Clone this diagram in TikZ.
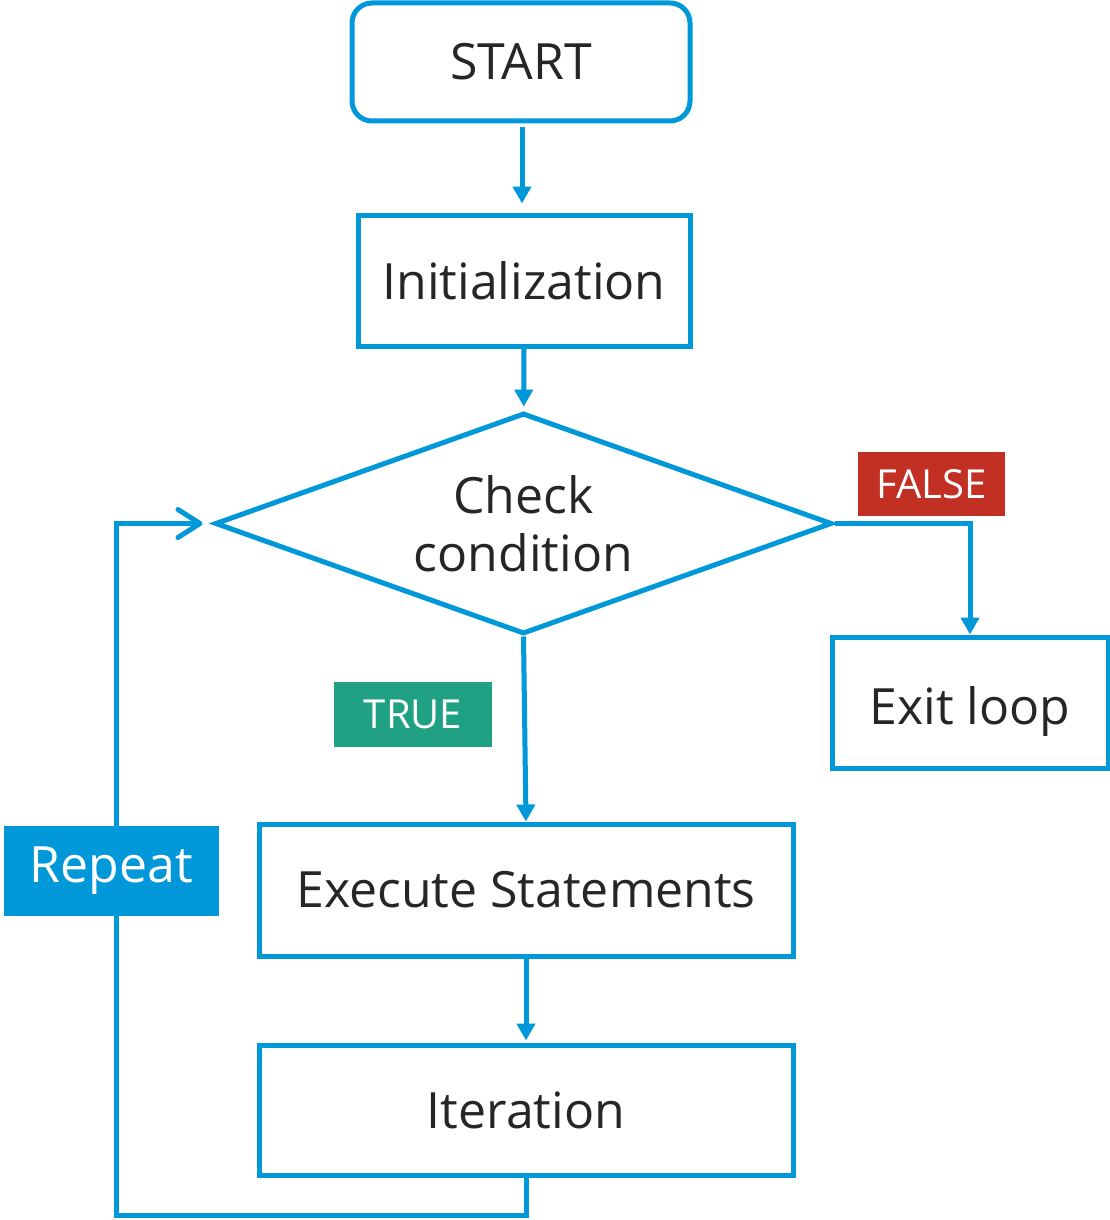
\documentclass[tikz,border=0pt]{standalone}
\usepackage{fontspec}
\setmainfont{Open Sans}
\usetikzlibrary{arrows.meta,shapes.geometric,calc}
\definecolor{lblue}{RGB}{0,152,216}
\definecolor{lred}{RGB}{194,48,36}
\definecolor{lgreen}{RGB}{32,161,132}
\definecolor{ltext}{RGB}{38,38,38}
\begin{document}
\begin{tikzpicture}[x=1pt,y=-1pt,
  box/.style={draw=lblue,line width=5pt,inner sep=0pt,text=ltext,font=\fontsize{50}{60}\selectfont},
  cond/.style={draw=lblue,line width=5pt,shape=diamond,inner sep=0pt,aspect=2.79,minimum width=617pt,minimum height=221pt,text=ltext,align=center,font=\fontsize{50}{58}\selectfont},
  tag/.style={inner sep=0pt,text=white,font=\fontsize{40}{48}\selectfont},
  flow/.style={draw=lblue,line width=5pt,-{Triangle[length=17pt,width=18pt]}},
  back/.style={draw=lblue,line width=5pt,line cap=round,-{Straight Barb[length=22pt,width=28pt,line cap=round,line join=round]}}
]
\useasboundingbox (0,0) rectangle (1110,1220);
\node[box,rounded corners=20pt,minimum width=338pt,minimum height=118pt] (start) at (521,62) {START};
\node[box,minimum width=332pt,minimum height=131pt] (init) at (524,280.5) {Initialization};
\node[cond] (d) at (523.5,523.5) {Check\\condition};
\node[box,minimum width=276pt,minimum height=131pt,text depth=0pt] (exit) at (970,702.5) {\raisebox{-5pt}{Exit loop}};
\node[box,minimum width=534pt,minimum height=132pt] (ex) at (526,890) {Execute Statements};
\node[box,minimum width=534pt,minimum height=130pt] (it) at (526,1110) {Iteration};
\node[tag,fill=lred,minimum width=147pt,minimum height=64pt] (f) at (931.5,484) {FALSE};
\node[tag,fill=lgreen,minimum width=158pt,minimum height=65pt] (t) at (413,714.5) {TRUE};
\coordinate (lb) at (116,1215);
\draw[flow,shorten <=4pt,shorten >=9pt] ([xshift=1pt]start.south) -- ([xshift=1pt]start.south |- init.north);
\draw[flow,shorten >=4pt] (init) -- (d);
\draw[flow] (d.east) -| (exit.north);
\draw[flow] (d.south) -- (ex.north);
\draw[flow,shorten >=2pt] (ex) -- (it);
\draw[back,shorten >=10pt] (it.south) |- (lb) |- (d.west);
\node[tag,fill=lblue,minimum width=215pt,minimum height=90pt,font=\fontsize{50}{60}\selectfont] (rep) at (111.5,871) {\raisebox{-4pt}{Repeat}};
\end{tikzpicture}
\end{document}
